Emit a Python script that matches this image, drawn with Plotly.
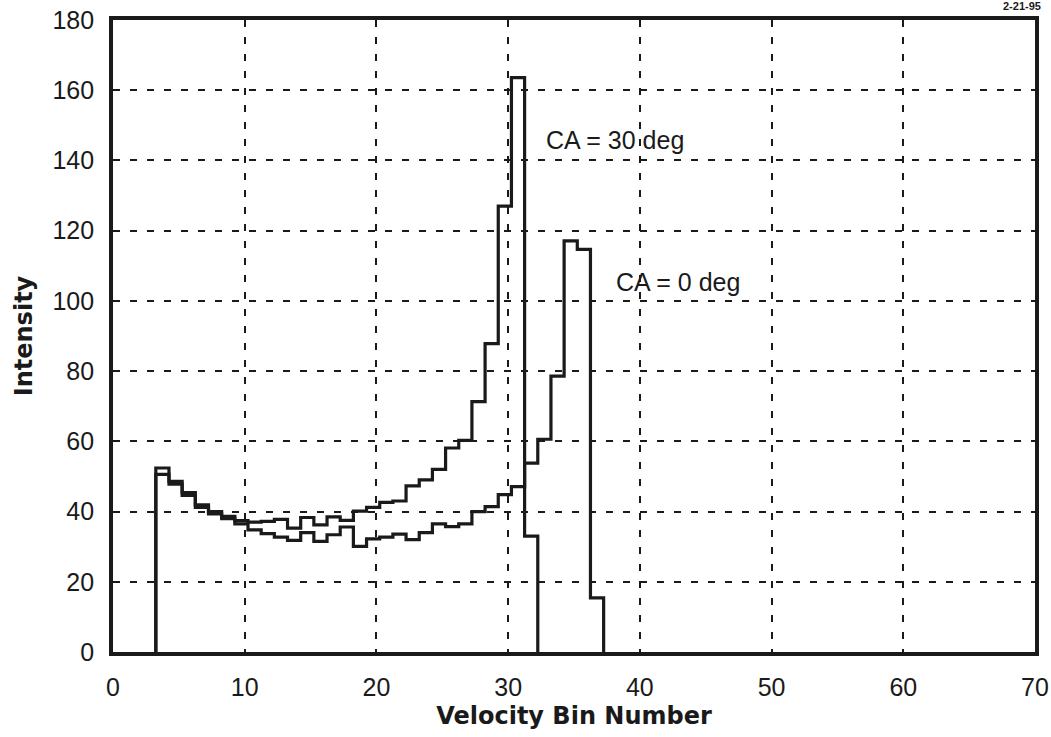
import plotly.graph_objects as go

# Histogram data: unit-width velocity bins, first bin starting at 3.25
bin_start = 3.25
bin_width = 1.0

# CA = 30 deg (bins 3..31)
counts_30deg = [
    52.4, 48.6, 45.4, 41.9, 40.0, 38.6, 37.4, 37.0, 37.2, 37.8,
    35.3, 38.3, 36.2, 38.5, 37.5, 40.1, 41.2, 42.6, 43.0, 47.3,
    49.0, 52.0, 58.1, 60.3, 71.3, 87.8, 127.0, 163.6, 33.0,
]

# CA = 0 deg (bins 3..36)
counts_0deg = [
    50.6, 47.8, 44.6, 41.2, 39.3, 38.0, 36.5, 34.8, 33.7, 32.7,
    31.8, 34.0, 31.5, 33.4, 35.6, 30.1, 32.2, 32.7, 33.6, 32.0,
    34.0, 36.5, 35.7, 36.5, 40.0, 41.4, 44.8, 47.1, 53.8, 60.6,
    78.6, 117.1, 114.7, 15.4,
]

x_ticks = [0, 10, 20, 30, 40, 50, 60, 70]
y_ticks = [0, 20, 40, 60, 80, 100, 120, 140, 160, 180]

labels = [("CA = 30 deg", 32.7, 145.8), ("CA = 0 deg", 38.0, 105.5)]

INK = "#1a1a1a"


def step_outline(counts):
    """Closed histogram outline: rises from 0 at the first edge, drops to 0 at the last."""
    edges = [bin_start + i * bin_width for i in range(len(counts) + 1)]
    xs = [edges[0]] + edges
    ys = [0] + list(counts) + [0]
    return xs, ys


fig = go.Figure()

for counts, name in [(counts_30deg, "CA = 30 deg"), (counts_0deg, "CA = 0 deg")]:
    xs, ys = step_outline(counts)
    fig.add_trace(go.Scatter(
        x=xs, y=ys, mode="lines", name=name,
        line=dict(color=INK, width=3.2, shape="hv"),
        showlegend=False,
    ))

for text, ax, ay in labels:
    fig.add_annotation(
        x=ax, y=ay, text=text, showarrow=False, xanchor="left", yanchor="middle",
        font=dict(family="Liberation Sans, Arial", size=25, color=INK),
    )

# scan stamp in the top right corner (cut off by the page edge)
fig.add_annotation(
    x=(1001 - 113) / 922, y=1 + 14 / 632, xref="paper", yref="paper",
    text="<b>2-21-95</b>", showarrow=False, xanchor="left", yanchor="middle",
    font=dict(family="Liberation Sans, Arial", size=11, color=INK),
)

axis_common = dict(
    showgrid=True,
    gridcolor=INK,
    gridwidth=2.2,
    griddash="7px,10px",
    zeroline=False,
    showline=True,
    linecolor=INK,
    linewidth=3.8,
    mirror=True,
    ticks="",
    ticklabelstandoff=10,
    automargin=False,
    tickfont=dict(family="Liberation Sans, Arial", size=25, color=INK),
)

fig.update_layout(
    width=1051,
    height=737,
    paper_bgcolor="white",
    plot_bgcolor="white",
    margin=dict(l=113, r=16, t=20, b=85),
    xaxis=dict(
        range=[0, 70], tickvals=x_ticks,
        title=dict(text="<b>Velocity Bin Number</b>", standoff=8,
                   font=dict(family="DejaVu Sans", size=24, color=INK)),
        **axis_common,
    ),
    yaxis=dict(
        range=[0, 180], tickvals=y_ticks,
        title=dict(text="<b>Intensity</b>", standoff=14,
                   font=dict(family="DejaVu Sans", size=24, color=INK)),
        **axis_common,
    ),
)

# the page body has a default margin; drop it so the figure fills the window
fig.write_html(
    "out.html",
    config={"displayModeBar": False},
    post_script="document.body.style.margin = '0';",
)
